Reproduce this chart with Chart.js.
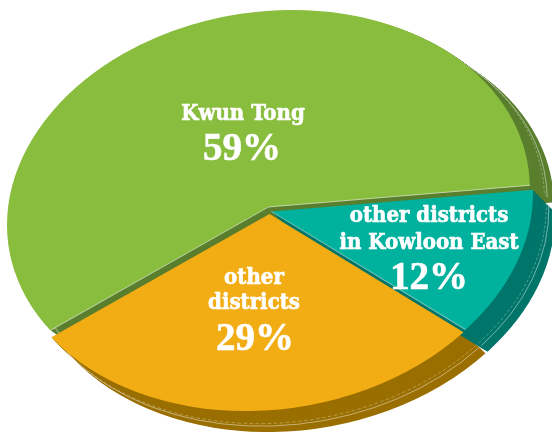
<!DOCTYPE html>
<html>
<head>
<meta charset="utf-8">
<style>
  html, body { margin: 0; padding: 0; background: #fff; }
  canvas { display: block; }
</style>
<script src="https://cdn.jsdelivr.net/npm/chart.js@4"></script>
</head>
<body>
<canvas id="grafico" width="552" height="432"></canvas>
<script>
const categories = ['Kwun Tong', 'other districts in Kowloon East', 'other districts'];
const shares = [59, 12, 29];

const topColors = ['#88bd3d', '#00b19d', '#f3ad14'];
const sideColors = ['#5a7f2e', '#00756a', '#9a6f00'];

// el pastel es un circulo de Chart.js, aplastado e inclinado a elipse con esta transformacion
const ellipse = { x: 268.5, y: 207, rx: 261.5, ry: 196.2, tilt: -18 };
const depthX = [24, 22, 22];
const depthY = [17, 22, 21];
const slideX = [0, 3, 1];
const slideY = [0, 4.5, 7];

// orden de pintado: verde, naranja, turquesa
const drawOrder = [0, 2, 1];

const labelFont = 'bold 22px "DejaVu Serif Condensed", "DejaVu Serif"';
const shareFont = 'bold 39px "Liberation Serif"';
const labelLines = [
    { text: 'Kwun Tong', x: 243, y: 114, font: labelFont },
    { text: '59%', x: 242, y: 150, font: shareFont },
    { text: 'other districts', x: 429, y: 216, font: labelFont },
    { text: 'in Kowloon East', x: 429, y: 243, font: labelFont },
    { text: '12%', x: 429, y: 279, font: shareFont },
    { text: 'other', x: 254, y: 278, font: labelFont },
    { text: 'districts', x: 254, y: 303, font: labelFont },
    { text: '29%', x: 255, y: 340, font: shareFont }
];

function aplastar(ctx, arc, dx, dy) {
    const r = arc.outerRadius;
    ctx.transform(ellipse.rx / r, ellipse.tilt / r, 0, ellipse.ry / r, ellipse.x + dx, ellipse.y + dy);
    ctx.translate(-arc.x, -arc.y);
}

function pintarArco(ctx, arc, color, dx, dy) {
    const copia = Object.create(arc);
    copia.options = Object.assign({}, arc.options, { backgroundColor: color, borderWidth: 0 });
    ctx.save();
    aplastar(ctx, arc, dx, dy);
    copia.draw(ctx);
    ctx.restore();
}

function lineaBorde(ctx, arc, dx, dy, color, dash) {
    ctx.save();
    aplastar(ctx, arc, dx, dy);
    ctx.beginPath();
    ctx.arc(arc.x, arc.y, arc.outerRadius, arc.startAngle, arc.endAngle);
    ctx.strokeStyle = color;
    ctx.lineWidth = 0.7;
    ctx.setLineDash(dash);
    ctx.stroke();
    ctx.restore();
}

function lineaRadio(ctx, arc, angle, dx, dy, color) {
    ctx.save();
    aplastar(ctx, arc, dx, dy);
    ctx.beginPath();
    ctx.moveTo(arc.x, arc.y);
    ctx.lineTo(arc.x + Math.cos(angle) * arc.outerRadius, arc.y + Math.sin(angle) * arc.outerRadius);
    ctx.strokeStyle = color;
    ctx.lineWidth = 1;
    ctx.stroke();
    ctx.restore();
}

const pastel3d = {
    id: 'pastel3d',
    beforeDatasetsDraw(chart) {
        const ctx = chart.ctx;
        const arcs = chart.getDatasetMeta(0).data;

        // costados: copias del arco desplazadas en diagonal
        drawOrder.forEach(i => {
            for (let d = 24; d >= 1; d--) {
                pintarArco(ctx, arcs[i], sideColors[i], slideX[i] + depthX[i] * d / 24, slideY[i] + depthY[i] * d / 24);
            }
        });

        // las lineas claras del costado
        drawOrder.forEach(i => {
            lineaBorde(ctx, arcs[i], slideX[i] + depthX[i] * 0.6, slideY[i] + depthY[i] * 0.6, 'rgba(255,255,255,0.4)', [3, 2]);
            lineaBorde(ctx, arcs[i], slideX[i] + depthX[i] * 0.72, slideY[i] + depthY[i] * 0.72, 'rgba(255,255,255,0.6)', []);
        });

        // caras superiores
        drawOrder.forEach(i => {
            pintarArco(ctx, arcs[i], topColors[i], slideX[i], slideY[i]);
        });

        // brillo en los cortes del verde y del turquesa
        lineaRadio(ctx, arcs[0], arcs[0].startAngle, 0, 0, 'rgba(220,232,200,0.75)');
        lineaRadio(ctx, arcs[0], arcs[0].endAngle, 0, 0, 'rgba(220,232,200,0.75)');
        lineaRadio(ctx, arcs[1], arcs[1].endAngle, slideX[1], slideY[1], 'rgba(190,230,225,0.6)');

        return false; // ya esta todo pintado
    },
    afterDraw(chart) {
        const ctx = chart.ctx;
        ctx.save();
        ctx.fillStyle = '#fff';
        ctx.strokeStyle = '#fff';
        ctx.lineWidth = 0.6;
        ctx.textAlign = 'center';
        ctx.textBaseline = 'middle';
        labelLines.forEach(l => {
            ctx.font = l.font;
            ctx.fillText(l.text, l.x, l.y);
            ctx.strokeText(l.text, l.x, l.y);
        });
        ctx.restore();
    }
};

new Chart(document.getElementById('grafico').getContext('2d'), {
    type: 'pie',
    data: {
        labels: categories,
        datasets: [{
            data: shares,
            backgroundColor: topColors,
            borderWidth: 0
        }]
    },
    options: {
        responsive: false,
        animation: false,
        rotation: 236.5,
        plugins: {
            legend: { display: false },
            tooltip: { enabled: false }
        }
    },
    plugins: [pastel3d]
});
</script>
</body>
</html>
